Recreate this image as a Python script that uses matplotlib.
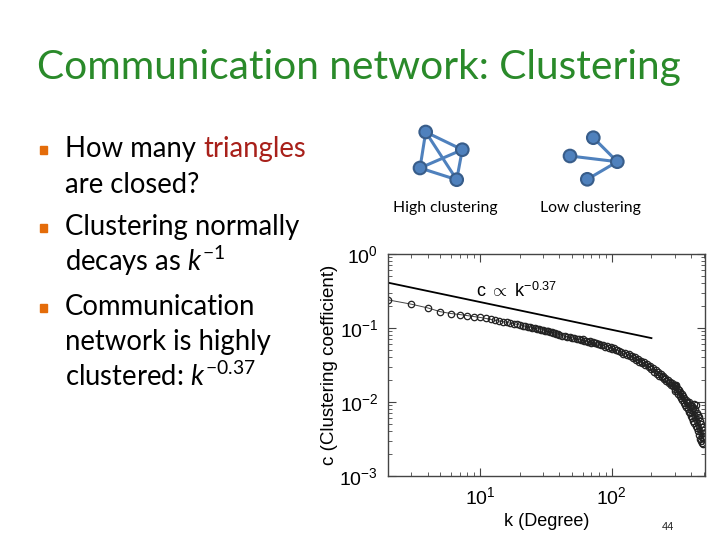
import matplotlib
matplotlib.use("Agg")
import matplotlib.pyplot as plt
from matplotlib.patches import Circle, Rectangle

plt.rcParams['font.family'] = ['Liberation Sans', 'DejaVu Sans']
plt.rcParams['mathtext.fontset'] = 'custom'
plt.rcParams['mathtext.rm'] = 'Lato'
plt.rcParams['mathtext.it'] = 'Lato:italic'

# degree k and clustering coefficient c
k_vals = [2, 3, 4, 5, 6, 7, 8, 9, 10, 11, 12, 13, 14, 15, 16, 17, 18, 19,
          20, 21, 22, 23, 24, 25, 26, 27, 28, 29, 30, 31, 32, 33, 34, 35, 36,
          37, 38, 39, 40, 42, 44, 46, 48, 50, 52, 54, 56, 58, 60, 62, 64, 66,
          68, 70, 72, 74, 76, 78, 80, 83, 86, 89, 92, 95, 98, 101, 104, 107,
          110, 114, 118, 122, 126, 130, 134, 138, 142, 146, 150, 154, 158, 162,
          166, 170, 175, 180, 185, 190, 195, 200, 205, 210, 215, 220, 225, 230,
          235, 240, 245, 250, 255, 260, 265, 270, 275, 280, 285, 290, 295,
          300, 302, 304, 306, 308, 312, 316, 320, 324, 328, 332, 336, 340, 344,
          348, 352, 356, 360, 364, 368, 372, 376, 380, 384, 388, 392, 396, 400,
          404, 408, 412, 416, 420, 424, 428, 432, 436, 440, 444, 448, 452, 456,
          460, 464, 468, 472, 476, 480, 484, 488, 492, 496, 500]
c_vals = [0.240, 0.210, 0.187, 0.166, 0.157, 0.152, 0.147, 0.143, 0.139, 0.135,
          0.131, 0.127, 0.124, 0.121, 0.119, 0.116, 0.114, 0.112,
          0.110, 0.108, 0.106, 0.104, 0.103, 0.101, 0.100, 0.098, 0.097, 0.095,
          0.094, 0.092, 0.091, 0.090, 0.088, 0.087, 0.086, 0.085, 0.083, 0.082,
          0.081, 0.079, 0.078, 0.076, 0.075, 0.074, 0.073, 0.071, 0.070, 0.069,
          0.0700, 0.0670, 0.0675, 0.0650, 0.0658, 0.0632, 0.0640, 0.0620, 0.0628,
          0.0603, 0.0610, 0.0582, 0.0590, 0.0562, 0.0570, 0.0543, 0.0550, 0.0522,
          0.0530, 0.0502, 0.0510, 0.0485,
          0.0480, 0.0450, 0.0460, 0.0432, 0.0442, 0.0412, 0.0420, 0.0392, 0.0402,
          0.0372, 0.0380, 0.0352, 0.0362, 0.0338, 0.0342, 0.0312, 0.0322, 0.0293,
          0.0302, 0.0275, 0.0285, 0.0258, 0.0268, 0.0242, 0.0252, 0.0228, 0.0238,
          0.0215, 0.0225, 0.0203, 0.0212, 0.0190, 0.0200, 0.0180, 0.0189, 0.0170,
          0.0180, 0.0162, 0.0170,
          0.0170, 0.0142, 0.0150, 0.0168, 0.0162, 0.0140, 0.0152, 0.0130, 0.0145,
          0.0122, 0.0135, 0.0115, 0.0128, 0.0105, 0.0120, 0.0098, 0.0112, 0.0092,
          0.0108, 0.0086, 0.0100, 0.0080, 0.0096, 0.0074, 0.0100, 0.0070, 0.0090,
          0.0065, 0.0088, 0.0060, 0.0082, 0.0056, 0.0095, 0.0052, 0.0080, 0.0048,
          0.0090, 0.0044, 0.0072, 0.0040, 0.0066, 0.0036, 0.0062, 0.0032, 0.0056,
          0.0030, 0.0050, 0.0028, 0.0046, 0.0034, 0.0042, 0.0027, 0.0038]

# power-law fit line, c ~ k^-0.37
fit_k = [2, 200]
fit_c = [0.41, 0.073]

title = "Communication network: Clustering"
bullets = [
    ["How many ", "are closed?"],
    ["Clustering normally", r"decays as $\mathit{k}^{\mathit{-1}}$"],
    ["Communication", "network is highly", r"clustered: $\mathit{k}^{\mathit{-0.37}}$"],
]

fig = plt.figure(figsize=(7.2, 5.4), dpi=100)

# slide background, laid out in pixel coords
bg = fig.add_axes([0, 0, 1, 1])
bg.set_xlim(0, 720)
bg.set_ylim(540, 0)
bg.axis('off')

slide_font = 'Lato'
bg.text(37, 68, title, fontsize=29.3, color='#2A8A2A', family=slide_font,
        va='center', ha='left')

bullet_y = [[157, 193], [235, 271], [315, 350, 386]]
for lines, ys in zip(bullets, bullet_y):
    bg.add_patch(Rectangle((39.5, ys[0] - 11), 7.5, 7.5, color='#E46C0A'))
    for txt, y in zip(lines, ys):
        bg.text(65, y, txt, fontsize=19.8, family=slide_font, va='baseline')

# red word on the first line
renderer = fig.canvas.get_renderer()
t0 = bg.texts[1]
x_end = t0.get_window_extent(renderer).x1
bg.text(x_end, 157, "triangles", fontsize=19.8, family=slide_font,
        va='baseline', color='#A8201A')

# network icons
node_c = '#4F81BD'
node_e = '#385D8A'
high = [(425.7, 132), (462.3, 149.7), (420, 168), (456.7, 179.7)]
high_edges = [(0, 1), (0, 2), (0, 3), (1, 2), (1, 3), (2, 3)]
low = [(593.3, 137.7), (570, 156), (617.3, 161.7), (587.3, 179.3)]
low_edges = [(2, 0), (2, 1), (2, 3)]
for nodes, edges in [(high, high_edges), (low, low_edges)]:
    for a, b in edges:
        bg.plot([nodes[a][0], nodes[b][0]], [nodes[a][1], nodes[b][1]],
                color=node_c, lw=2.2, solid_capstyle='round', zorder=2)
    for x, y in nodes:
        bg.add_patch(Circle((x, y), 6.3, facecolor=node_c, edgecolor=node_e,
                            lw=1.5, zorder=3))
bg.text(445.5, 208, "High clustering", fontsize=11.3, family=slide_font,
        ha='center', va='center')
bg.text(590, 208, "Low clustering", fontsize=11.3, family=slide_font,
        ha='center', va='center')
bg.text(668, 527, "44", fontsize=8, color='#222222', ha='center', va='center')

# the plot itself
ax = fig.add_axes([388 / 720, 1 - 476 / 540, 317 / 720, 222 / 540])
ax.loglog(k_vals, c_vals, '-o', color='#444444', lw=0.7, ms=4.6,
          mfc='none', mec='#222222', mew=0.9)
ax.loglog(fit_k, fit_c, '-', color='black', lw=1.3)
ax.text(9.3, 0.31, r'c ${\propto}$ k$^{\mathdefault{-0.37}}$', fontsize=13,
        va='center', ha='left')
ax.set_xlim(2, 510)
ax.set_ylim(1e-3, 1)
ax.tick_params(which='both', direction='in', top=True, right=True,
               color='#444444', labelsize=14)
ax.tick_params(which='major', length=6, pad=7)
ax.tick_params(which='minor', length=3)
for s in ax.spines.values():
    s.set_color('#444444')
    s.set_linewidth(1)
ax.set_xlabel("k (Degree)", fontsize=13, labelpad=4)
ax.set_ylabel("c (Clustering coefficient)", fontsize=13.5, labelpad=1)

fig.savefig("out.png", dpi=100)
